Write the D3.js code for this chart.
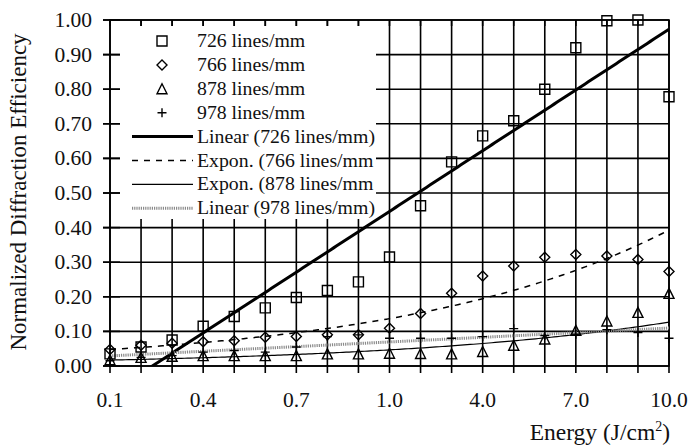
<!DOCTYPE html>
<html>
<head>
<meta charset="utf-8">
<script src="https://cdn.jsdelivr.net/npm/d3@7"></script>
<style>
  body { margin: 0; background: #fff; }
  text { font-family: "Liberation Serif", "Times New Roman", serif; fill: #111; }
</style>
</head>
<body>
<svg></svg>
<script>
// energy categories (J/cm2), equally spaced on the axis
var categories = ["0.1", "0.2", "0.3", "0.4", "0.5", "0.6", "0.7", "0.8", "0.9", "1.0",
                  "2.0", "3.0", "4.0", "5.0", "6.0", "7.0", "8.0", "9.0", "10.0"];
var shownTicks = ["0.1", "0.4", "0.7", "1.0", "4.0", "7.0", "10.0"];
var yTicks = [0, 0.1, 0.2, 0.3, 0.4, 0.5, 0.6, 0.7, 0.8, 0.9, 1.0];

var eff726 = [0.035, 0.055, 0.075, 0.115, 0.143, 0.168, 0.198, 0.218, 0.243, 0.315,
              0.463, 0.59, 0.665, 0.709, 0.80, 0.92, 0.998, 1.0, 0.778];
var eff766 = [0.048, 0.06, 0.066, 0.07, 0.073, 0.083, 0.085, 0.09, 0.09, 0.109,
              0.152, 0.21, 0.26, 0.289, 0.314, 0.322, 0.318, 0.308, 0.273];
var eff878 = [0.018, 0.025, 0.028, 0.03, 0.03, 0.03, 0.03, 0.035, 0.035, 0.037,
              0.036, 0.035, 0.042, 0.06, 0.078, 0.103, 0.13, 0.155, 0.21];
var eff978 = [0.015, 0.025, 0.03, 0.04, 0.045, 0.04, 0.055, 0.085, 0.09, 0.08,
              0.08, 0.08, 0.085, 0.108, 0.088, 0.092, 0.105, 0.097, 0.08];

var legendLabels = ["726 lines/mm", "766 lines/mm", "878 lines/mm", "978 lines/mm",
                    "Linear (726 lines/mm)", "Expon. (766 lines/mm", "Expon. (878 lines/mm", "Linear (978 lines/mm)"];

// least squares on x = 1..n like a spreadsheet trendline
function linFit(vals) {
    var n = vals.length, mx = (n + 1) / 2, my = d3.mean(vals), sxy = 0, sxx = 0;
    vals.forEach(function (v, i) { sxy += (i + 1 - mx) * (v - my); sxx += (i + 1 - mx) * (i + 1 - mx); });
    var b = sxy / sxx;
    return function (t) { return my - b * mx + b * (t + 1); };
}
function expFit(vals) {
    var f = linFit(vals.map(Math.log));
    return function (t) { return Math.exp(f(t)); };
}

function marker(type, s) {
    if (type == "square") return "M" + -s + "," + -s + "h" + 2 * s + "v" + 2 * s + "h" + -2 * s + "Z";
    if (type == "diamond") return "M0," + -s + "L" + s + ",0L0," + s + "L" + -s + ",0Z";
    if (type == "triangle") return "M0," + -s + "L" + s + "," + s + "L" + -s + "," + s + "Z";
    return "M" + -s + ",0h" + 2 * s + "M0," + -s + "v" + 2 * s;
}

function drawChart() {
    var svgWidth = 691, svgHeight = 448;
    var left = 110, right = 669, top = 20, bottom = 366;

    var svg = d3.select("svg").attr("width", svgWidth).attr("height", svgHeight);
    var x = d3.scaleLinear().domain([0, categories.length - 1]).range([left, right]);
    var y = d3.scaleLinear().domain([0, 1]).range([bottom, top]);

    // grid
    svg.append("g").selectAll("line").data(categories).enter().append("line")
        .attr("x1", function (d, i) { return x(i); }).attr("x2", function (d, i) { return x(i); })
        .attr("y1", top).attr("y2", bottom + 7)
        .attr("stroke", "#000").attr("stroke-width", 1.6);
    svg.append("g").selectAll("line").data(yTicks).enter().append("line")
        .attr("x1", left - 7).attr("x2", right)
        .attr("y1", function (d) { return y(d); }).attr("y2", function (d) { return y(d); })
        .attr("stroke", "#000").attr("stroke-width", 1.6);
    svg.append("rect").attr("x", left).attr("y", top).attr("width", right - left).attr("height", bottom - top)
        .attr("fill", "none").attr("stroke", "#000").attr("stroke-width", 1.6);

    // legend box hides the grid behind it
    svg.append("clipPath").attr("id", "legclip").append("rect")
        .attr("x", 120).attr("y", 26).attr("width", 256).attr("height", 193);
    var lg = svg.append("g").attr("clip-path", "url(#legclip)");
    lg.append("rect").attr("x", 120).attr("y", 26).attr("width", 256).attr("height", 193).attr("fill", "#fff");
    svg.append("g").selectAll("line").data(categories).enter().append("line")
        .attr("x1", function (d, i) { return x(i); }).attr("x2", function (d, i) { return x(i); })
        .attr("y1", top).attr("y2", top + 6).attr("stroke", "#000").attr("stroke-width", 1.6);
    svg.append("g").selectAll("line").data(yTicks).enter().append("line")
        .attr("x1", left - 7).attr("x2", left + 10)
        .attr("y1", function (d) { return y(d); }).attr("y2", function (d) { return y(d); })
        .attr("stroke", "#000").attr("stroke-width", 1.6);

    // tick labels
    svg.append("g").selectAll("text").data(yTicks).enter().append("text")
        .attr("x", 92).attr("y", function (d) { return y(d) + 7; })
        .attr("text-anchor", "end").attr("font-size", 21.5)
        .text(function (d) { return d3.format(".2f")(d); });
    svg.append("g").selectAll("text").data(shownTicks).enter().append("text")
        .attr("x", function (d) { return x(categories.indexOf(d)); }).attr("y", 407)
        .attr("text-anchor", "middle").attr("font-size", 21.5)
        .text(function (d) { return d; });

    // axis titles
    svg.append("text").attr("transform", "translate(26,192) rotate(-90)")
        .attr("text-anchor", "middle").attr("font-size", 23)
        .text("Normalized Diffraction Efficiency");
    var xt = svg.append("text").attr("x", 670).attr("y", 440).attr("text-anchor", "end").attr("font-size", 23.5);
    xt.append("tspan").text("Energy (J/cm");
    xt.append("tspan").attr("font-size", 14).attr("dy", -9).text("2");
    xt.append("tspan").attr("dy", 9).text(")");

    // trend lines
    svg.append("clipPath").attr("id", "plot").append("rect")
        .attr("x", left).attr("y", top).attr("width", right - left).attr("height", bottom - top);
    var ts = d3.range(0, categories.length - 1 + 0.001, 0.1);
    var trends = [
        { f: linFit(eff726), w: 3, color: "#000", dash: null },
        { f: expFit(eff766), w: 1.5, color: "#000", dash: "6,6" },
        { f: expFit(eff878), w: 1.2, color: "#000", dash: null },
        { f: linFit(eff978), w: 3, color: "#8a8a8a", dash: "1.2,1" }
    ];
    var line = d3.line().x(function (d) { return x(d[0]); }).y(function (d) { return y(d[1]); });
    svg.append("g").attr("clip-path", "url(#plot)").selectAll("path").data(trends).enter().append("path")
        .attr("d", function (t) { return line(ts.map(function (v) { return [v, t.f(v)]; })); })
        .attr("fill", "none").attr("stroke", function (t) { return t.color; })
        .attr("stroke-width", function (t) { return t.w; })
        .attr("stroke-dasharray", function (t) { return t.dash; });

    // markers
    var series = [
        { vals: eff726, type: "square", s: 5 },
        { vals: eff766, type: "diamond", s: 5 },
        { vals: eff878, type: "triangle", s: 5 },
        { vals: eff978, type: "plus", s: 4.5 }
    ];
    series.forEach(function (sr) {
        svg.append("g").selectAll("path").data(sr.vals).enter().append("path")
            .attr("transform", function (d, i) { return "translate(" + x(i) + "," + y(d) + ")"; })
            .attr("d", marker(sr.type, sr.s))
            .attr("fill", "none").attr("stroke", "#000").attr("stroke-width", 1.4);
    });

    // legend entries
    var rows = lg.selectAll("g").data(legendLabels).enter().append("g")
        .attr("transform", function (d, i) { return "translate(0," + (41 + i * 23.9) + ")"; });
    rows.append("text").attr("x", 197).attr("y", 6).attr("font-size", 19.8).text(function (d) { return d; });
    rows.filter(function (d, i) { return i < 4; }).append("path")
        .attr("transform", "translate(162,0)")
        .attr("d", function (d, i) { return marker(series[i].type, series[i].s); })
        .attr("fill", "none").attr("stroke", "#000").attr("stroke-width", 1.4);
    rows.filter(function (d, i) { return i >= 4; }).append("line")
        .attr("x1", 132).attr("x2", 193)
        .attr("stroke", function (d, i) { return trends[i].color; })
        .attr("stroke-width", function (d, i) { return trends[i].w; })
        .attr("stroke-dasharray", function (d, i) { return trends[i].dash; });
}

drawChart();
</script>
</body>
</html>
